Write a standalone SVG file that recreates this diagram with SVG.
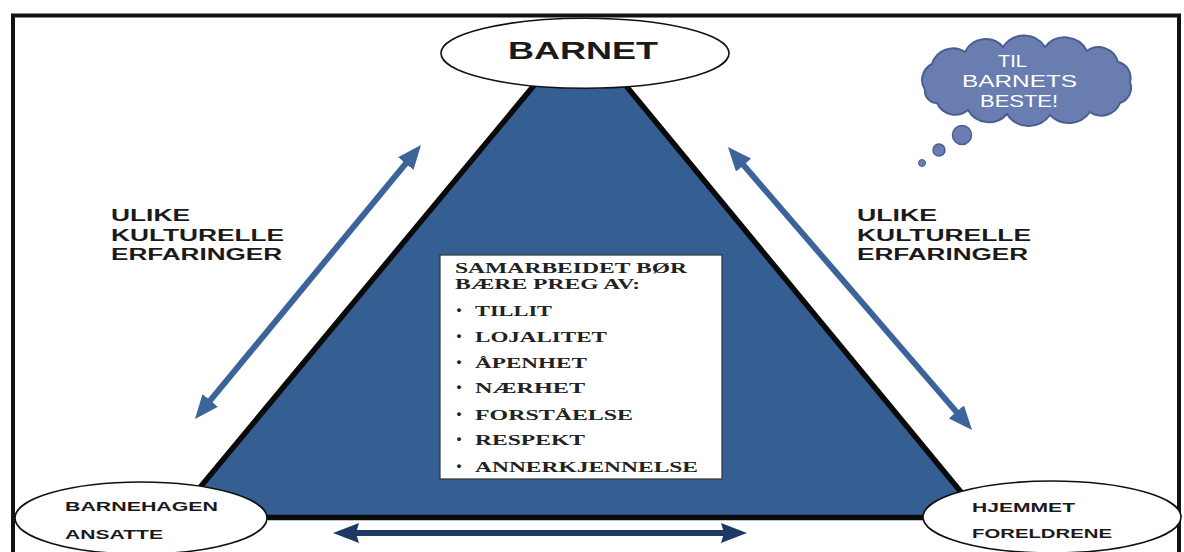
<svg xmlns="http://www.w3.org/2000/svg" width="1184" height="552" viewBox="0 0 1184 552">
  <style>
    .sans { font-family: "Liberation Sans", Arial, sans-serif; font-weight: bold; fill: #1a1a1a; }
    .serif { font-family: "Liberation Serif", "Times New Roman", serif; font-weight: bold; fill: #222; font-size: 15.5px; }
    .bullet { font-family: "Liberation Serif", "Times New Roman", serif; font-weight: bold; fill: #222; font-size: 24px; }
    .node { fill: #ffffff; stroke: #111; stroke-width: 1.6; }
    .cloudtxt { font-family: "Liberation Sans", Arial, sans-serif; fill: #ffffff; font-size: 17px; }
  </style>
  <defs>
    <marker id="headBlue" markerUnits="userSpaceOnUse" markerWidth="24" markerHeight="20" refX="10" refY="10" orient="auto-start-reverse">
      <path d="M0,0 L24,10 L0,20 z" fill="#3c649b"/>
    </marker>
    <marker id="headNavy" markerUnits="userSpaceOnUse" markerWidth="26" markerHeight="20" refX="12" refY="10" orient="auto-start-reverse">
      <path d="M0,0 L26,10 L0,20 L3,10 z" fill="#1e3a64"/>
    </marker>
  </defs>

  <rect x="0" y="0" width="1184" height="552" fill="#ffffff"/>
  <rect id="frame" x="13" y="15.5" width="1166" height="560" fill="none" stroke="#111" stroke-width="4"/>

  <g id="triangle">
    <polygon points="580,30 175,517.5 982,517.5" fill="#355e93" stroke="#0a0a0a" stroke-width="5.5"/>
  </g>

  <g id="connectors">
    <line x1="412.1" y1="155.8" x2="203.9" y2="408.2" stroke="#3c649b" stroke-width="6" marker-start="url(#headBlue)" marker-end="url(#headBlue)"/>
    <line x1="737.1" y1="157.6" x2="962.9" y2="419.4" stroke="#3c649b" stroke-width="6" marker-start="url(#headBlue)" marker-end="url(#headBlue)"/>
    <line x1="347" y1="533" x2="733" y2="533" stroke="#1e3a64" stroke-width="6" marker-start="url(#headNavy)" marker-end="url(#headNavy)"/>
  </g>

  <g id="barnet">
    <ellipse class="node" cx="585" cy="53.3" rx="144" ry="35"/>
    <text class="sans" x="508" y="59" font-size="24" textLength="150" lengthAdjust="spacingAndGlyphs">BARNET</text>
  </g>

  <g id="barnehagen">
    <ellipse class="node" cx="141" cy="518" rx="126" ry="36"/>
    <text class="sans" x="65" y="511" font-size="13" textLength="153" lengthAdjust="spacingAndGlyphs" fill="#2a2a2a">BARNEHAGEN</text>
    <text class="sans" x="65" y="539" font-size="13" textLength="98" lengthAdjust="spacingAndGlyphs" fill="#2a2a2a">ANSATTE</text>
  </g>

  <g id="hjemmet">
    <ellipse class="node" cx="1052" cy="517" rx="129" ry="36"/>
    <text class="sans" x="972" y="512" font-size="13" textLength="103" lengthAdjust="spacingAndGlyphs" fill="#2a2a2a">HJEMMET</text>
    <text class="sans" x="972" y="538" font-size="13" textLength="140" lengthAdjust="spacingAndGlyphs" fill="#2a2a2a">FORELDRENE</text>
  </g>

  <g id="label-left">
    <text class="sans" x="111" y="221" font-size="16" textLength="79" lengthAdjust="spacingAndGlyphs">ULIKE</text>
    <text class="sans" x="111" y="241" font-size="16" textLength="173" lengthAdjust="spacingAndGlyphs">KULTURELLE</text>
    <text class="sans" x="111" y="260" font-size="16" textLength="171" lengthAdjust="spacingAndGlyphs">ERFARINGER</text>
  </g>

  <g id="label-right">
    <text class="sans" x="857" y="221" font-size="16" textLength="80" lengthAdjust="spacingAndGlyphs">ULIKE</text>
    <text class="sans" x="857" y="241" font-size="16" textLength="174" lengthAdjust="spacingAndGlyphs">KULTURELLE</text>
    <text class="sans" x="857" y="260" font-size="16" textLength="171" lengthAdjust="spacingAndGlyphs">ERFARINGER</text>
  </g>

  <g id="cloud">
    <path d="M925,90 A18,18 0 0 1 932,64 A22,22 0 0 1 965,52 A23,23 0 0 1 1003,47 A25,25 0 0 1 1045,47 A25,25 0 0 1 1087,51 A20,20 0 0 1 1118,62 A16,16 0 0 1 1130,82 A16,16 0 0 1 1120,103 A20,20 0 0 1 1090,112 A26,26 0 0 1 1050,115 A26,26 0 0 1 1007,114 A24,24 0 0 1 968,110 A20,20 0 0 1 937,103 A12,12 0 0 1 925,90 z" fill="#6a7db0" stroke="#4b5e93" stroke-width="2"/>
    <circle cx="962" cy="135" r="9.5" fill="#6a7db0" stroke="#4b5e93" stroke-width="1.5"/>
    <circle cx="939" cy="150" r="6" fill="#6a7db0" stroke="#4b5e93" stroke-width="1.5"/>
    <circle cx="922" cy="163" r="3.5" fill="#6a7db0" stroke="#4b5e93" stroke-width="1"/>
    <text class="cloudtxt" x="998" y="67" textLength="29" lengthAdjust="spacingAndGlyphs">TIL</text>
    <text class="cloudtxt" x="962" y="87" textLength="115" lengthAdjust="spacingAndGlyphs">BARNETS</text>
    <text class="cloudtxt" x="980" y="107" textLength="78" lengthAdjust="spacingAndGlyphs">BESTE!</text>
  </g>

  <g id="box">
    <rect x="440" y="255" width="282" height="224" fill="#ffffff" stroke="#333" stroke-width="1.2"/>
    <text class="serif" x="455" y="273" textLength="232" lengthAdjust="spacingAndGlyphs">SAMARBEIDET BØR</text>
    <text class="serif" x="455" y="289" textLength="185" lengthAdjust="spacingAndGlyphs">BÆRE PREG AV:</text>
    <g class="bullet">
      <text x="455" y="318">·</text>
      <text x="455" y="344">·</text>
      <text x="455" y="370">·</text>
      <text x="455" y="395">·</text>
      <text x="455" y="422">·</text>
      <text x="455" y="447">·</text>
      <text x="455" y="474">·</text>
    </g>
    <text class="serif" x="475" y="316" textLength="77" lengthAdjust="spacingAndGlyphs">TILLIT</text>
    <text class="serif" x="475" y="342" textLength="132" lengthAdjust="spacingAndGlyphs">LOJALITET</text>
    <text class="serif" x="475" y="368" textLength="112" lengthAdjust="spacingAndGlyphs">ÅPENHET</text>
    <text class="serif" x="475" y="393" textLength="110" lengthAdjust="spacingAndGlyphs">NÆRHET</text>
    <text class="serif" x="475" y="420" textLength="158" lengthAdjust="spacingAndGlyphs">FORSTÅELSE</text>
    <text class="serif" x="475" y="445" textLength="110" lengthAdjust="spacingAndGlyphs">RESPEKT</text>
    <text class="serif" x="475" y="472" textLength="223" lengthAdjust="spacingAndGlyphs">ANNERKJENNELSE</text>
  </g>
</svg>
